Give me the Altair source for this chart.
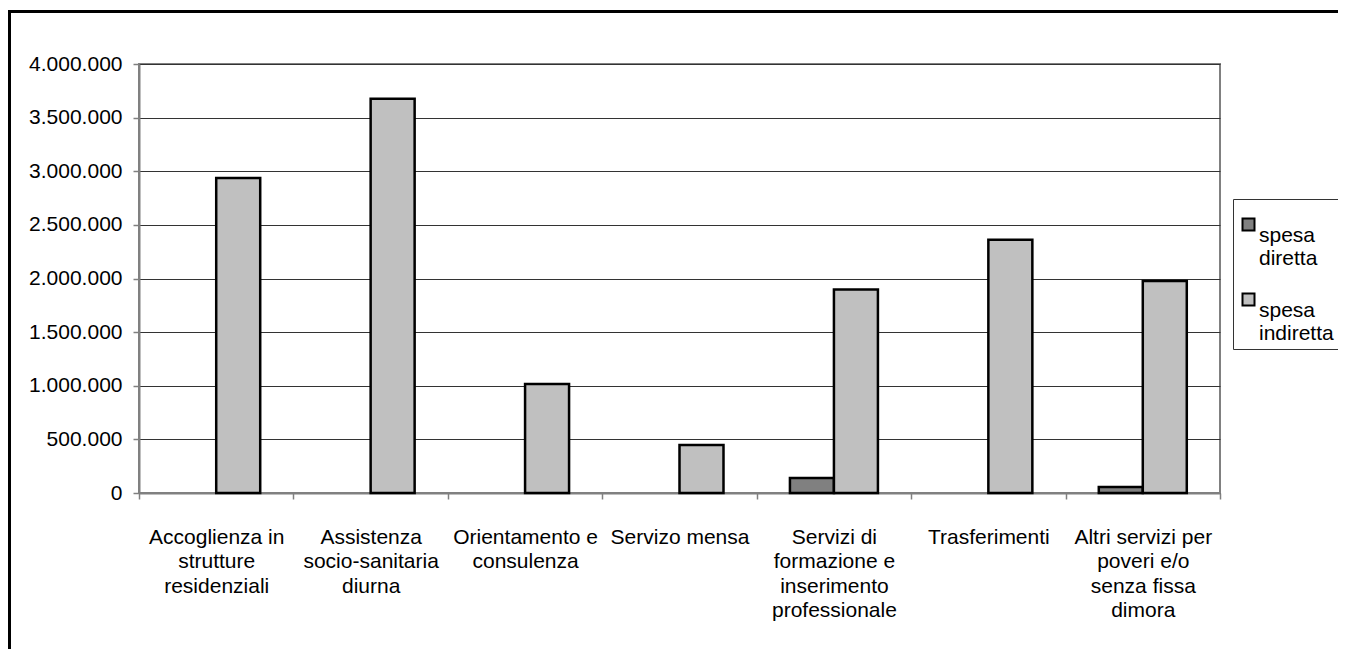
import json
import altair as alt
import pandas as pd

CATEGORIES = [
    "Accoglienza in strutture residenziali",
    "Assistenza socio-sanitaria diurna",
    "Orientamento e consulenza",
    "Servizo mensa",
    "Servizi di formazione e inserimento professionale",
    "Trasferimenti",
    "Altri servizi per poveri e/o senza fissa dimora",
]
LABEL_LINES = [
    ["Accoglienza in", "strutture", "residenziali"],
    ["Assistenza", "socio-sanitaria", "diurna"],
    ["Orientamento e", "consulenza"],
    ["Servizo mensa"],
    ["Servizi di", "formazione e", "inserimento", "professionale"],
    ["Trasferimenti"],
    ["Altri servizi per", "poveri e/o", "senza fissa", "dimora"],
]
SERIES = ["spesa diretta", "spesa indiretta"]
SPESA_DIRETTA = [0, 0, 0, 0, 140000, 0, 57000]
SPESA_INDIRETTA = [2937000, 3677000, 1016000, 448000, 1898000, 2362000, 1977000]
Y_TICKS = [0, 500000, 1000000, 1500000, 2000000, 2500000, 3000000, 3500000, 4000000]
COLORS = ["#808080", "#c0c0c0"]

rows = []
for i, c in enumerate(CATEGORIES):
    rows.append({"cat": c, "serie": SERIES[0], "value": SPESA_DIRETTA[i]})
    rows.append({"cat": c, "serie": SERIES[1], "value": SPESA_INDIRETTA[i]})
df = pd.DataFrame(rows)

label_map = json.dumps({c: l for c, l in zip(CATEGORIES, LABEL_LINES)})

FONT = "Liberation Sans"
FS = 21

bars = (
    alt.Chart(df)
    .transform_filter("datum.value > 0")
    .mark_bar(stroke="black", strokeWidth=2.5)
    .encode(
        x=alt.X(
            "cat:N",
            sort=CATEGORIES,
            title=None,
            scale=alt.Scale(paddingInner=0, paddingOuter=0),
            axis=alt.Axis(
                labelAngle=0,
                labelExpr=label_map + "[datum.label]",
                labelFont=FONT,
                labelFontSize=FS,
                labelColor="black",
                labelLineHeight=24.5,
                labelPadding=27,
                labelBaseline="top",
                labelLimit=0,
                tickBand="extent",
                tickColor="#808080",
                tickWidth=1.5,
                tickSize=6,
                domainColor="#808080",
                domainWidth=2,
                grid=False,
            ),
        ),
        xOffset=alt.XOffset(
            "serie:N",
            sort=SERIES,
            scale=alt.Scale(paddingOuter=0.755, paddingInner=0),
        ),
        y=alt.Y(
            "value:Q",
            title=None,
            scale=alt.Scale(domain=[0, 4000000], nice=False),
            axis=alt.Axis(
                values=Y_TICKS,
                labelExpr="replace(format(datum.value, ','), regexp(',', 'g'), '.')",
                labelFont=FONT,
                labelFontSize=FS,
                labelColor="black",
                labelPadding=11,
                tickColor="#808080",
                tickWidth=1.5,
                tickSize=6,
                domainColor="#808080",
                domainWidth=2,
                grid=True,
                gridColor="#333333",
                gridWidth=1.2,
            ),
        ),
        color=alt.Color(
            "serie:N",
            sort=SERIES,
            scale=alt.Scale(domain=SERIES, range=COLORS),
            legend=alt.Legend(
                title=" ",
                titleFontSize=1,
                titlePadding=9,
                orient="none",
                legendX=1094,
                legendY=135,
                direction="vertical",
                labelExpr="split(datum.label, ' ')",
                labelFont=FONT,
                labelFontSize=FS,
                labelColor="black",
                labelBaseline="top",
                labelOffset=0,
                symbolType="square",
                symbolSize=144,
                symbolStrokeColor="black",
                symbolStrokeWidth=2,
                strokeColor="#333333",
                padding=5,
                rowPadding=20,
            ),
        ),
    )
)

frame = (
    alt.Chart(pd.DataFrame({"f": [0]}))
    .mark_rect(fill=None, stroke="black", strokeWidth=3)
    .encode(
        x=alt.value(-129.5),
        x2=alt.value(1400),
        y=alt.value(-52.5),
        y2=alt.value(800),
    )
)

chart = (
    alt.layer(frame, bars)
    .properties(
        width=1081,
        height=429,
        autosize=alt.AutoSizeParams(type="none"),
        padding={"left": 131, "top": 56, "right": 118, "bottom": 156},
        background="white",
    )
    .configure_view(stroke="#808080", strokeWidth=2)
)

chart.save("out.html", embed_options={"renderer": "svg", "actions": False})
